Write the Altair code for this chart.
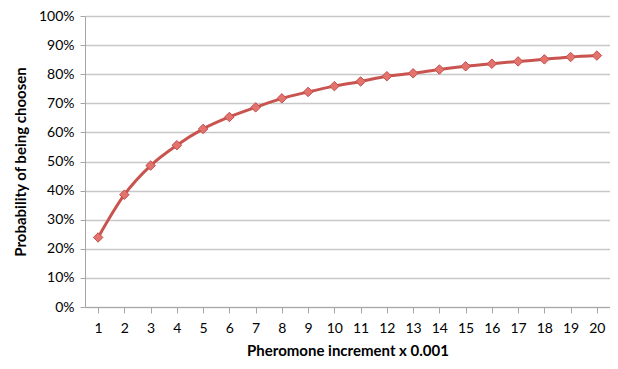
import altair as alt
import pandas as pd

increments = list(range(1, 21))
probability = [0.239, 0.386, 0.486, 0.556, 0.612, 0.653, 0.686, 0.717, 0.739, 0.759,
               0.775, 0.793, 0.803, 0.816, 0.827, 0.836, 0.844, 0.851, 0.859, 0.864]

df = pd.DataFrame({"inc": [str(i) for i in increments], "p": probability})

FONT = "Lato"

x = alt.X("inc:O", sort=None, title="Pheromone increment x 0.001",
          scale=alt.Scale(paddingInner=0, paddingOuter=0.5),
          axis=alt.Axis(labelAngle=0, labelFontSize=14, labelPadding=8, tickSize=6,
                        tickColor="#a6a6a6", domainColor="#a6a6a6", labelColor="#000000",
                        titleFontSize=15, titleFontWeight="bold", titlePadding=8,
                        titleColor="#000000", grid=False))
y = alt.Y("p:Q", title="Probability of being choosen",
          scale=alt.Scale(domain=[0, 1]),
          axis=alt.Axis(format=".0%", values=[i / 10 for i in range(11)], labelFontSize=14,
                        labelPadding=6, tickSize=5, tickColor="#a6a6a6", domainColor="#a6a6a6",
                        gridColor="#c8c8c8", gridWidth=1.5, labelColor="#000000",
                        titleFontSize=15, titleFontWeight="bold", titlePadding=10,
                        titleColor="#000000"))

line = alt.Chart(df).mark_line(color="#c9544f", strokeWidth=3, interpolate="monotone").encode(x=x, y=y)
pts = alt.Chart(df).mark_point(shape="diamond", filled=True, size=90, fill="#e5736d",
                               stroke="#c0504d", strokeWidth=1, opacity=1).encode(x=x, y=y)

chart = (line + pts).properties(
    width=525, height=291,
    autosize=alt.AutoSizeParams(type="none"),
    padding={"left": 77, "top": 8, "right": 0, "bottom": 54},
).configure_axis(labelFont=FONT, titleFont=FONT).configure_view(stroke=None)

chart.save("out.html", embed_options={"renderer": "svg", "actions": False})
